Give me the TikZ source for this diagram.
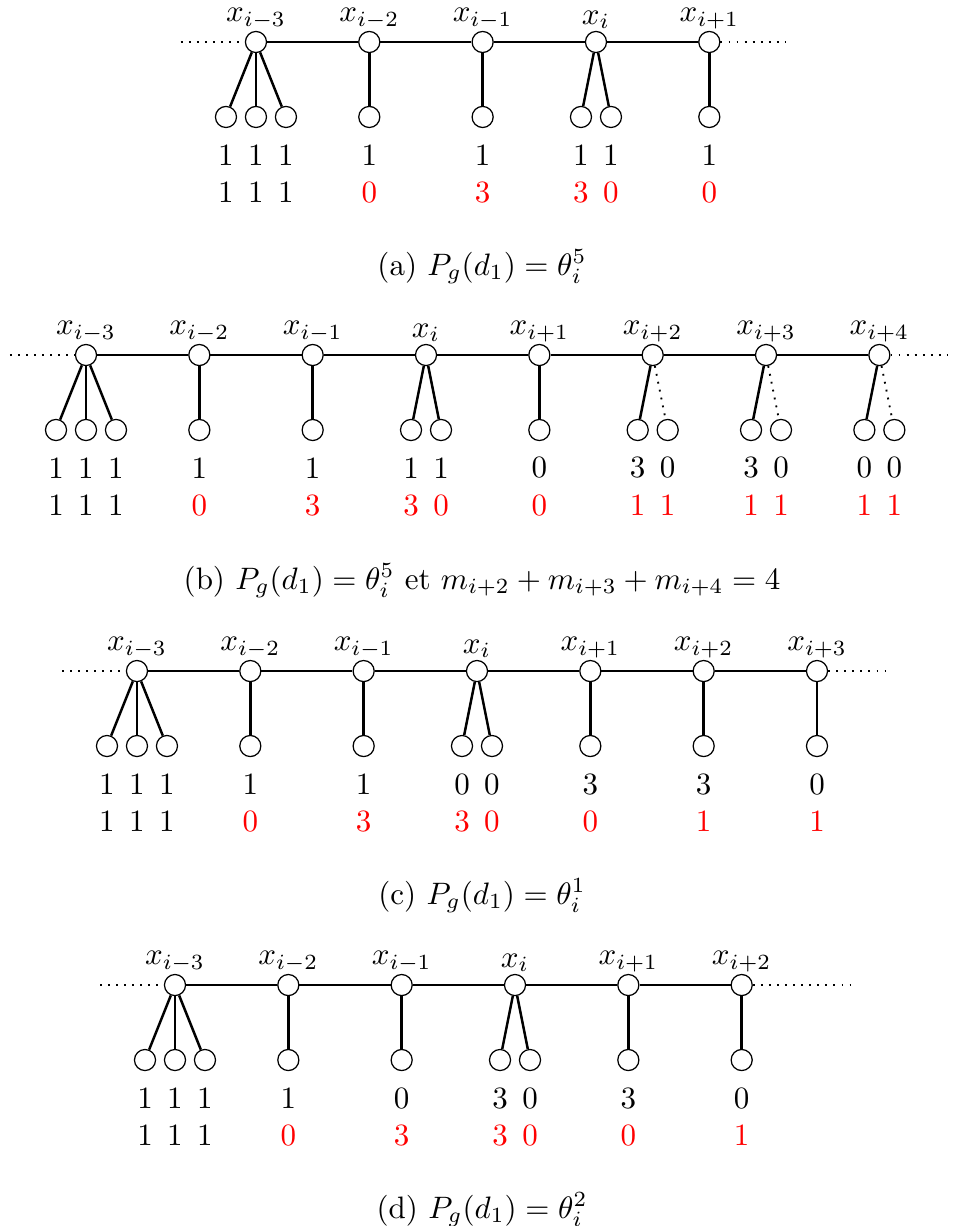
\documentclass[tikz,border=0pt]{standalone}
\usetikzlibrary{positioning}
\definecolor{valred}{HTML}{FF0000}

\begin{document}
\begin{tikzpicture}[
    vtx/.style={draw, circle, minimum size=6.8pt, inner sep=0pt},
    lbl/.style={inner sep=0.5pt},
    solidedge/.style={thick},
    dotedge/.style={semithick, dotted},
    num/.style={inner sep=0pt},
  ]
  \useasboundingbox (0,0) rectangle (10.805,-13.9);
  \def\dx{1.285}

  % (a)
  \begin{scope}[shift={(2.902,-0.476)}]
    \foreach \k/\lab in {0/i-3,1/i-2,2/i-1,3/i,4/i+1}
      \node[vtx, label={[lbl]above:$x_{\lab}$}] (a\k) at (\k*\dx,0) {};
    \foreach \k [evaluate=\k as \j using int(\k+1)] in {0,...,3}
      \draw[solidedge] (a\k) -- (a\j);
    \coordinate (aW) at (-0.853,0);
    \coordinate (aE) at (4*\dx+0.858,0);
    \draw[dotedge] (aW) -- (a0);
    \draw[dotedge] (a4) -- (aE);
    \foreach \k/\d/\up/\dn/\c/\e [count=\n] in {0/-0.34/1/1/black/solidedge,
        0/0/1/1/black/solidedge, 0/0.34/1/1/black/solidedge, 1/0/1/0/valred/solidedge,
        2/0/1/3/valred/solidedge, 3/-0.17/1/3/valred/solidedge,
        3/0.17/1/0/valred/solidedge, 4/0/1/0/valred/solidedge}
    {
      \node[vtx] (al\n) at (\k*\dx+\d,-0.85) {};
      \draw[\e] (a\k) -- (al\n);
      \node[num] (au\n) at (\k*\dx+\d,-1.281) {\up};
      \node[num, text=\c] (ad\n) at (\k*\dx+\d,-1.701) {\dn};
    }
  \end{scope}
  \node (capa) at (5.465,-3.027) {(a) $P_g(d_1)=\theta_i^5$};

  % (b)
  \begin{scope}[shift={(0.975,-4.025)}]
    \foreach \k/\lab in {0/i-3,1/i-2,2/i-1,3/i,4/i+1,5/i+2,6/i+3,7/i+4}
      \node[vtx, label={[lbl]above:$x_{\lab}$}] (b\k) at (\k*\dx,0) {};
    \foreach \k [evaluate=\k as \j using int(\k+1)] in {0,...,6}
      \draw[solidedge] (b\k) -- (b\j);
    \coordinate (bW) at (-0.862,0);
    \coordinate (bE) at (7*\dx+0.767,0);
    \draw[dotedge] (bW) -- (b0);
    \draw[dotedge] (b7) -- (bE);
    \foreach \k/\d/\up/\dn/\c/\e [count=\n] in {0/-0.34/1/1/black/solidedge,
        0/0/1/1/black/solidedge, 0/0.34/1/1/black/solidedge, 1/0/1/0/valred/solidedge,
        2/0/1/3/valred/solidedge, 3/-0.17/1/3/valred/solidedge,
        3/0.17/1/0/valred/solidedge, 4/0/0/0/valred/solidedge,
        5/-0.17/3/1/valred/solidedge, 5/0.17/0/1/valred/dotedge,
        6/-0.17/3/1/valred/solidedge, 6/0.17/0/1/valred/dotedge,
        7/-0.17/0/1/valred/solidedge, 7/0.17/0/1/valred/dotedge}
    {
      \node[vtx] (bl\n) at (\k*\dx+\d,-0.85) {};
      \draw[\e] (b\k) -- (bl\n);
      \node[num] (bu\n) at (\k*\dx+\d,-1.281) {\up};
      \node[num, text=\c] (bd\n) at (\k*\dx+\d,-1.701) {\dn};
    }
  \end{scope}
  \node (capb) at (5.465,-6.587) {(b) $P_g(d_1)=\theta_i^5$ et $m_{i+2}+m_{i+3}+m_{i+4}=4$};

  % (c)
  \begin{scope}[shift={(1.553,-7.608)}]
    \foreach \k/\lab in {0/i-3,1/i-2,2/i-1,3/i,4/i+1,5/i+2,6/i+3}
      \node[vtx, label={[lbl]above:$x_{\lab}$}] (c\k) at (\k*\dx,0) {};
    \foreach \k [evaluate=\k as \j using int(\k+1)] in {0,...,5}
      \draw[solidedge] (c\k) -- (c\j);
    \coordinate (cW) at (-0.85,0);
    \coordinate (cE) at (6*\dx+0.85,0);
    \draw[dotedge] (cW) -- (c0);
    \draw[dotedge] (c6) -- (cE);
    \foreach \k/\d/\up/\dn/\c/\e [count=\n] in {0/-0.34/1/1/black/solidedge,
        0/0/1/1/black/solidedge, 0/0.34/1/1/black/solidedge, 1/0/1/0/valred/solidedge,
        2/0/1/3/valred/solidedge, 3/-0.17/0/3/valred/solidedge,
        3/0.17/0/0/valred/solidedge, 4/0/3/0/valred/solidedge,
        5/0/3/1/valred/solidedge, 6/0/0/1/valred/solidedge}
    {
      \node[vtx] (cl\n) at (\k*\dx+\d,-0.85) {};
      \draw[\e] (c\k) -- (cl\n);
      \node[num] (cu\n) at (\k*\dx+\d,-1.281) {\up};
      \node[num, text=\c] (cd\n) at (\k*\dx+\d,-1.701) {\dn};
    }
  \end{scope}
  \node (capc) at (5.465,-10.159) {(c) $P_g(d_1)=\theta_i^1$};

  % (d)
  \begin{scope}[shift={(1.984,-11.168)}]
    \foreach \k/\lab in {0/i-3,1/i-2,2/i-1,3/i,4/i+1,5/i+2}
      \node[vtx, label={[lbl]above:$x_{\lab}$}] (d\k) at (\k*\dx,0) {};
    \foreach \k [evaluate=\k as \j using int(\k+1)] in {0,...,4}
      \draw[solidedge] (d\k) -- (d\j);
    \coordinate (dW) at (-0.85,0);
    \coordinate (dE) at (6*\dx,0);
    \draw[dotedge] (dW) -- (d0);
    \draw[dotedge] (d5) -- (dE);
    \foreach \k/\d/\up/\dn/\c/\e [count=\n] in {0/-0.34/1/1/black/solidedge,
        0/0/1/1/black/solidedge, 0/0.34/1/1/black/solidedge, 1/0/1/0/valred/solidedge,
        2/0/0/3/valred/solidedge, 3/-0.17/3/3/valred/solidedge,
        3/0.17/0/0/valred/solidedge, 4/0/3/0/valred/solidedge,
        5/0/0/1/valred/solidedge}
    {
      \node[vtx] (dl\n) at (\k*\dx+\d,-0.85) {};
      \draw[\e] (d\k) -- (dl\n);
      \node[num] (du\n) at (\k*\dx+\d,-1.281) {\up};
      \node[num, text=\c] (dd\n) at (\k*\dx+\d,-1.701) {\dn};
    }
  \end{scope}
  \node (capd) at (5.465,-13.719) {(d) $P_g(d_1)=\theta_i^2$};
\end{tikzpicture}
\end{document}
